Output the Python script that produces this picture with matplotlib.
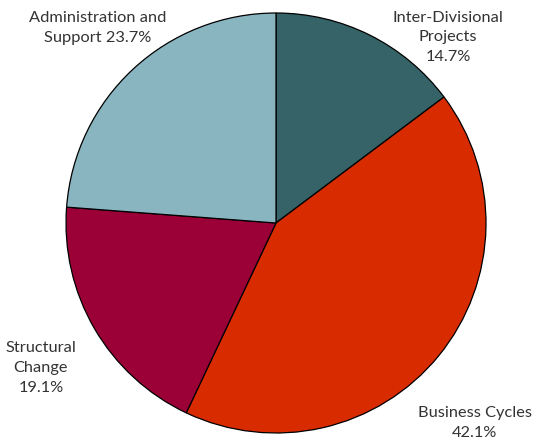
import matplotlib
matplotlib.use("Agg")
import matplotlib.pyplot as plt

categories = ["Inter-Divisional Projects", "Business Cycles", "Structural Change", "Administration and Support"]
values = [14.7, 42.1, 19.1, 23.7]
colors = ["#356367", "#d92b00", "#9b0036", "#88b5c0"]
label_texts = ["Inter-Divisional\nProjects\n14.7%", "Business Cycles\n42.1%",
               "Structural\nChange\n19.1%", "Administration and\nSupport 23.7%"]

W, H = 536, 448
fig = plt.figure(figsize=(W / 100, H / 100), dpi=100)
ax = fig.add_axes([0, 0, 1, 1])

cx, cy, r = 276, H - 223, 210
ax.pie(values, colors=colors, startangle=90, counterclock=False,
       center=(cx, cy), radius=r, frame=True,
       wedgeprops=dict(edgecolor="black", linewidth=0.9))
ax.set_xlim(0, W)
ax.set_ylim(0, H)
ax.set_aspect("equal")
ax.axis("off")

label_pos = [(448, 37), (475, 423), (41, 368), (98, 28)]
for txt, (x, y) in zip(label_texts, label_pos):
    ax.text(x, H - y, txt, ha="center", va="center", fontsize=11.8,
            family=["Lato", "DejaVu Sans"], color="#333333", linespacing=1.5)

fig.savefig("out.png", dpi=100)
